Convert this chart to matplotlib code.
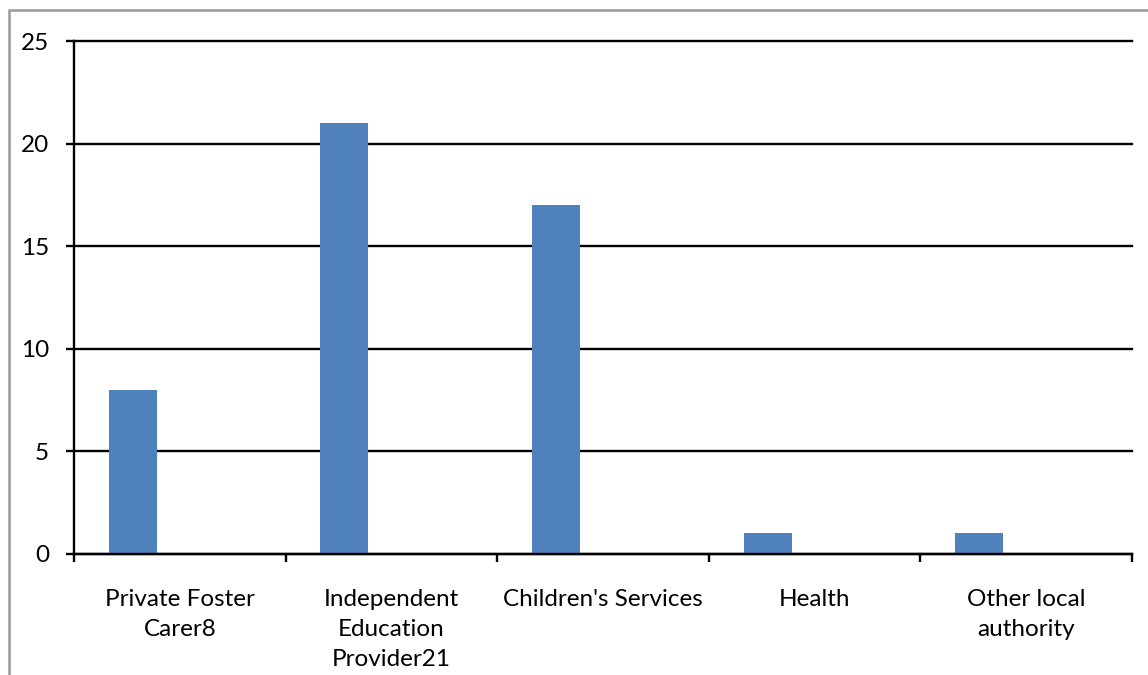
import matplotlib.pyplot as plt
from matplotlib.patches import Rectangle
import numpy as np

plt.rcParams['font.family'] = ['Lato', 'DejaVu Sans']

# referral sources and counts
categories = ["Private Foster\nCarer8", "Independent\nEducation\nProvider21",
              "Children's Services", "Health", "Other local\nauthority"]
counts = [8, 21, 17, 1, 1]
y_ticks = [0, 5, 10, 15, 20, 25]

bar_color = "#4F81BD"

fig = plt.figure(figsize=(11.48, 6.75), dpi=100)
ax = fig.add_axes([74 / 1148, 121 / 675, 1058 / 1148, 513 / 675])

x = np.arange(len(categories))
# bar sits in the left half of each category slot
ax.bar(x - 0.222, counts, width=0.227, color=bar_color, zorder=3)

ax.set_xlim(-0.5, len(categories) - 0.5)
ax.set_ylim(0, 25)

ax.set_yticks(y_ticks)
ax.set_yticklabels([str(v) for v in y_ticks], fontsize=17.5)
ax.yaxis.grid(True, color="black", linewidth=1.7, zorder=1)
for gl in ax.get_ygridlines():
    gl.set_clip_on(False)

# slot boundaries get tick marks, labels sit at slot centres
ax.set_xticks(np.arange(len(categories) + 1) - 0.5)
ax.set_xticklabels([])
ax.set_xticks(x, minor=True)
ax.set_xticklabels(categories, minor=True, fontsize=17.5, linespacing=1.55)
ax.tick_params(axis="x", which="major", direction="out", length=6, width=1.7)
ax.tick_params(axis="x", which="minor", length=0, pad=25)
ax.tick_params(axis="y", direction="out", length=6, width=1.7, pad=12)

for side in ("top", "right"):
    ax.spines[side].set_visible(False)
for side in ("left", "bottom"):
    ax.spines[side].set_linewidth(1.7)
    ax.spines[side].set_color("black")
    ax.spines[side].set_zorder(4)

# outer chart frame
fig.patches.append(Rectangle((9 / 1148, -0.1), 1.2, 0.1 + 665 / 675,
                             transform=fig.transFigure, fill=False,
                             edgecolor="#999999", linewidth=1.8))

fig.savefig("out.png", dpi=100)
